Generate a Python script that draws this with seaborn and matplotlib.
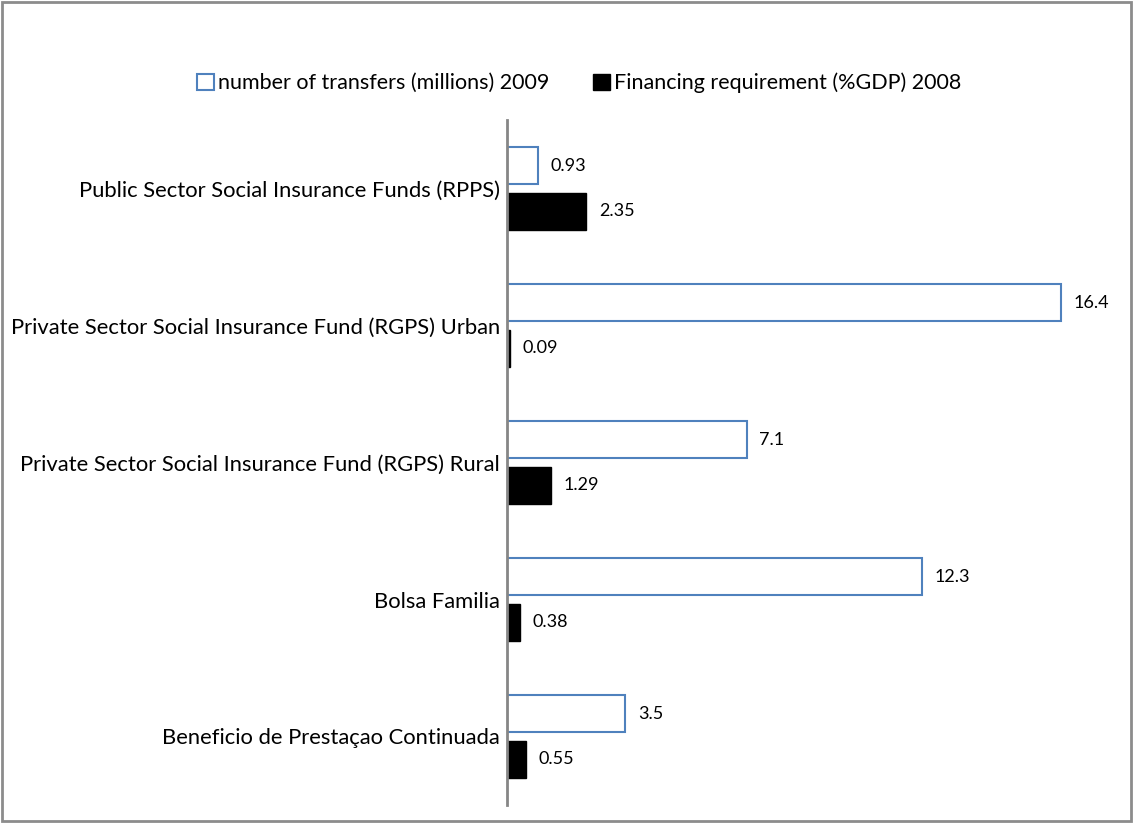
import matplotlib
matplotlib.use("Agg")
import matplotlib.pyplot as plt
from matplotlib.patches import Patch, Rectangle
import seaborn as sns
import pandas as pd

categories = [
    "Public Sector Social Insurance Funds (RPPS)",
    "Private Sector Social Insurance Fund (RGPS) Urban",
    "Private Sector Social Insurance Fund (RGPS) Rural",
    "Bolsa Familia",
    "Beneficio de Prestaçao Continuada",
]
series_names = ["number of transfers (millions) 2009", "Financing requirement (%GDP) 2008"]
transfers = [0.93, 16.4, 7.1, 12.3, 3.5]
financing = [2.35, 0.09, 1.29, 0.38, 0.55]

df = pd.DataFrame({
    "category": categories * 2,
    "series": [series_names[0]] * len(categories) + [series_names[1]] * len(categories),
    "value": transfers + financing,
})

sns.set_theme(style="white")
plt.rcParams["font.family"] = ["Lato", "DejaVu Sans"]
plt.rcParams["text.color"] = "black"
plt.rcParams["ytick.color"] = "black"
plt.rcParams["ytick.labelcolor"] = "black"

fig = plt.figure(figsize=(11.33, 8.23), dpi=100)
ax = fig.add_axes([507 / 1133, (823 - 805) / 823, (1115 - 507) / 1133, (805 - 120) / 823])

blue = "#4F81BD"
sns.barplot(data=df, y="category", x="value", hue="series", hue_order=series_names,
            order=categories, orient="h", palette={series_names[0]: "white", series_names[1]: "black"},
            width=0.67, gap=0.2, legend=False, ax=ax)

c0, c1 = ax.containers[0], ax.containers[1]
for p in c0:
    p.set_edgecolor(blue)
    p.set_linewidth(1.5)
for p in c1:
    p.set_edgecolor("black")
    p.set_linewidth(1.0)

ax.bar_label(c0, labels=[f"{v:g}" for v in transfers], padding=9, fontsize=13, color="black")
ax.bar_label(c1, labels=[f"{v:g}" for v in financing], padding=9, fontsize=13, color="black")

ax.set_xlim(0, 18)
ax.set_xlabel("")
ax.set_ylabel("")
ax.set_xticks([])
for s in ["top", "right", "bottom"]:
    ax.spines[s].set_visible(False)
ax.spines["left"].set_color("#868686")
ax.spines["left"].set_linewidth(2)
ax.tick_params(axis="y", length=0, pad=5, labelsize=15.8, labelcolor="black")

handles = [Patch(facecolor="white", edgecolor=blue, linewidth=1.5),
           Patch(facecolor="black", edgecolor="black")]
fig.legend(handles, series_names, loc="center", bbox_to_anchor=(579 / 1133, 1 - 83 / 823),
           ncol=2, frameon=False, fontsize=15.5, handlelength=0.8, handleheight=0.8,
           handletextpad=0.2, columnspacing=2.0, labelcolor="black")

fig.patches.append(Rectangle((0.002, 0.003), 0.996, 0.995, transform=fig.transFigure,
                             fill=False, edgecolor="#8c8c8c", linewidth=2))

fig.savefig("out.png", dpi=100)
